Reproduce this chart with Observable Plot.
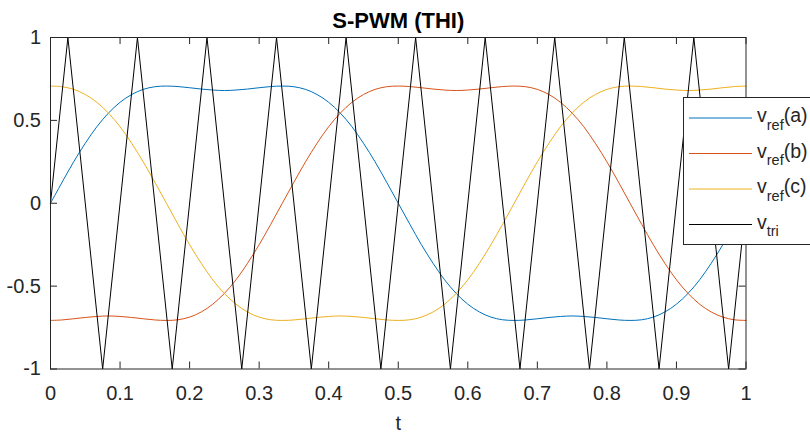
<!DOCTYPE html>
<html>
<head>
<meta charset="utf-8">
<script src="https://cdn.jsdelivr.net/npm/d3@7"></script>
<script src="https://cdn.jsdelivr.net/npm/@observablehq/plot@0.6"></script>
<style>
  html, body { margin: 0; padding: 0; background: white; }
  #chart { width: 810px; height: 432px; }
</style>
</head>
<body>
<div id="chart"></div>
<script>
const titleText = "S-PWM (THI)";
const xLabelText = "t";

const tGrid = [0, 0.0167, 0.0333, 0.05, 0.0667, 0.0833, 0.1, 0.1167, 0.1333, 0.15,
  0.1667, 0.1833, 0.2, 0.2167, 0.2333, 0.25, 0.2667, 0.2833, 0.3, 0.3167,
  0.3333, 0.35, 0.3667, 0.3833, 0.4, 0.4167, 0.4333, 0.45, 0.4667, 0.4833,
  0.5, 0.5167, 0.5333, 0.55, 0.5667, 0.5833, 0.6, 0.6167, 0.6333, 0.65,
  0.6667, 0.6833, 0.7, 0.7167, 0.7333, 0.75, 0.7667, 0.7833, 0.8, 0.8167,
  0.8333, 0.85, 0.8667, 0.8833, 0.9, 0.9167, 0.9333, 0.95, 0.9667, 0.9833, 1];

const vrefA = [0, 0.127, 0.250, 0.362, 0.462, 0.544, 0.609, 0.656, 0.687, 0.703,
  0.707, 0.704, 0.697, 0.689, 0.683, 0.680, 0.683, 0.689, 0.697, 0.704,
  0.707, 0.703, 0.687, 0.656, 0.609, 0.544, 0.462, 0.362, 0.250, 0.127,
  0, -0.127, -0.250, -0.362, -0.462, -0.544, -0.609, -0.656, -0.687, -0.703,
  -0.707, -0.704, -0.697, -0.689, -0.683, -0.680, -0.683, -0.689, -0.697, -0.704,
  -0.707, -0.703, -0.687, -0.656, -0.609, -0.544, -0.462, -0.362, -0.250, -0.127, 0];

const vrefB = [-0.707, -0.704, -0.697, -0.689, -0.683, -0.680, -0.683, -0.689, -0.697, -0.704,
  -0.707, -0.703, -0.687, -0.656, -0.609, -0.544, -0.462, -0.362, -0.250, -0.127,
  0, 0.127, 0.250, 0.362, 0.462, 0.544, 0.609, 0.656, 0.687, 0.703,
  0.707, 0.704, 0.697, 0.689, 0.683, 0.680, 0.683, 0.689, 0.697, 0.704,
  0.707, 0.703, 0.687, 0.656, 0.609, 0.544, 0.462, 0.362, 0.250, 0.127,
  0, -0.127, -0.250, -0.362, -0.462, -0.544, -0.609, -0.656, -0.687, -0.703, -0.707];

const vrefC = [0.707, 0.703, 0.687, 0.656, 0.609, 0.544, 0.462, 0.362, 0.250, 0.127,
  0, -0.127, -0.250, -0.362, -0.462, -0.544, -0.609, -0.656, -0.687, -0.703,
  -0.707, -0.704, -0.697, -0.689, -0.683, -0.680, -0.683, -0.689, -0.697, -0.704,
  -0.707, -0.703, -0.687, -0.656, -0.609, -0.544, -0.462, -0.362, -0.250, -0.127,
  0, 0.127, 0.250, 0.362, 0.462, 0.544, 0.609, 0.656, 0.687, 0.703,
  0.707, 0.704, 0.697, 0.689, 0.683, 0.680, 0.683, 0.689, 0.697, 0.704, 0.707];

const triT = [0, 0.025, 0.075, 0.125, 0.175, 0.225, 0.275, 0.325, 0.375, 0.425, 0.475,
  0.525, 0.575, 0.625, 0.675, 0.725, 0.775, 0.825, 0.875, 0.925, 0.975, 1];
const triV = [0, 1, -1, 1, -1, 1, -1, 1, -1, 1, -1, 1, -1, 1, -1, 1, -1, 1, -1, 1, -1, 0];

const xTicks = [0, 0.1, 0.2, 0.3, 0.4, 0.5, 0.6, 0.7, 0.8, 0.9, 1];
const xTickLabels = ["0", "0.1", "0.2", "0.3", "0.4", "0.5", "0.6", "0.7", "0.8", "0.9", "1"];
const yTicks = [-1, -0.5, 0, 0.5, 1];
const yTickLabels = ["-1", "-0.5", "0", "0.5", "1"];

const seriesNames = ["a", "b", "c", "tri"];
const seriesColors = ["#0072BD", "#D95319", "#EDB120", "#000000"];

const FONT = "'Liberation Sans', Arial, Helvetica, sans-serif";
const AX = "#262626";
const W = 810, H = 432;
const mL = 50, mR = 64.5, mT = 37, mB = 63.5;
const frameH = H - mT - mB;
const frameW = W - mL - mR;
const tickLen = 7;

const chart = Plot.plot({
  width: W, height: H,
  marginLeft: mL, marginRight: mR, marginTop: mT, marginBottom: mB,
  style: { fontFamily: FONT, fontSize: "20px", color: AX, background: "white", overflow: "visible" },
  x: { domain: [0, 1], axis: null },
  y: { domain: [-1, 1], axis: null },
  marks: [
    Plot.line(vrefA, { x: tGrid, y: vrefA, stroke: seriesColors[0], strokeWidth: 1, curve: "catmull-rom" }),
    Plot.line(vrefB, { x: tGrid, y: vrefB, stroke: seriesColors[1], strokeWidth: 1, curve: "catmull-rom" }),
    Plot.line(vrefC, { x: tGrid, y: vrefC, stroke: seriesColors[2], strokeWidth: 1, curve: "catmull-rom" }),
    Plot.line(triV, { x: triT, y: triV, stroke: seriesColors[3], strokeWidth: 1 }),
    Plot.frame({ stroke: AX, strokeWidth: 1 }),
    // inward ticks
    Plot.tickX(xTicks, { x: d => d, stroke: AX, insetTop: frameH - tickLen }),
    Plot.tickX(xTicks, { x: d => d, stroke: AX, insetBottom: frameH - tickLen }),
    Plot.tickY(yTicks, { y: d => d, stroke: AX, insetRight: frameW - tickLen }),
    Plot.tickY(yTicks, { y: d => d, stroke: AX, insetLeft: frameW - tickLen }),
    // tick labels
    Plot.text(xTicks, { x: d => d, text: (d, i) => xTickLabels[i], frameAnchor: "bottom", dy: 30.5, lineAnchor: "bottom", fill: AX, fontSize: 20 }),
    Plot.text(yTicks, { y: d => d, text: (d, i) => yTickLabels[i], frameAnchor: "left", dx: -9.5, textAnchor: "end", lineAnchor: "middle", fill: AX, fontSize: 20 }),
    // title and x label
    Plot.text([titleText], { text: d => d, frameAnchor: "top", dy: -10, lineAnchor: "bottom", fontWeight: "bold", fontSize: 22, fill: "#000" }),
    Plot.text([xLabelText], { text: d => d, frameAnchor: "bottom", dy: 60.5, lineAnchor: "bottom", fontSize: 20, fill: AX })
  ]
});

document.getElementById("chart").appendChild(chart);

// legend (drawn on top inside the same SVG)
const svg = d3.select(chart);
const lg = svg.append("g").attr("font-family", FONT).attr("fill", AX).attr("text-anchor", "start");
lg.append("rect").attr("x", 683.5).attr("y", 97.5).attr("width", 140).attr("height", 147)
  .attr("fill", "white").attr("stroke", AX).attr("stroke-width", 1);
const rowY = [118, 153.5, 189, 224.5];
seriesNames.forEach((name, i) => {
  const y = rowY[i];
  lg.append("line").attr("x1", 689).attr("x2", 752).attr("y1", y).attr("y2", y)
    .attr("stroke", seriesColors[i]).attr("stroke-width", 1);
  const tx = lg.append("text").attr("x", 757).attr("y", y + 4).attr("font-size", 19.5).attr("text-anchor", "start");
  tx.append("tspan").text("v");
  if (name === "tri") {
    tx.append("tspan").attr("dy", 7.5).attr("font-size", 14.5).text("tri");
  } else {
    tx.append("tspan").attr("dy", 7.5).attr("font-size", 14.5).text("ref");
    tx.append("tspan").attr("dy", -7.5).text("(" + name + ")");
  }
});
</script>
</body>
</html>
